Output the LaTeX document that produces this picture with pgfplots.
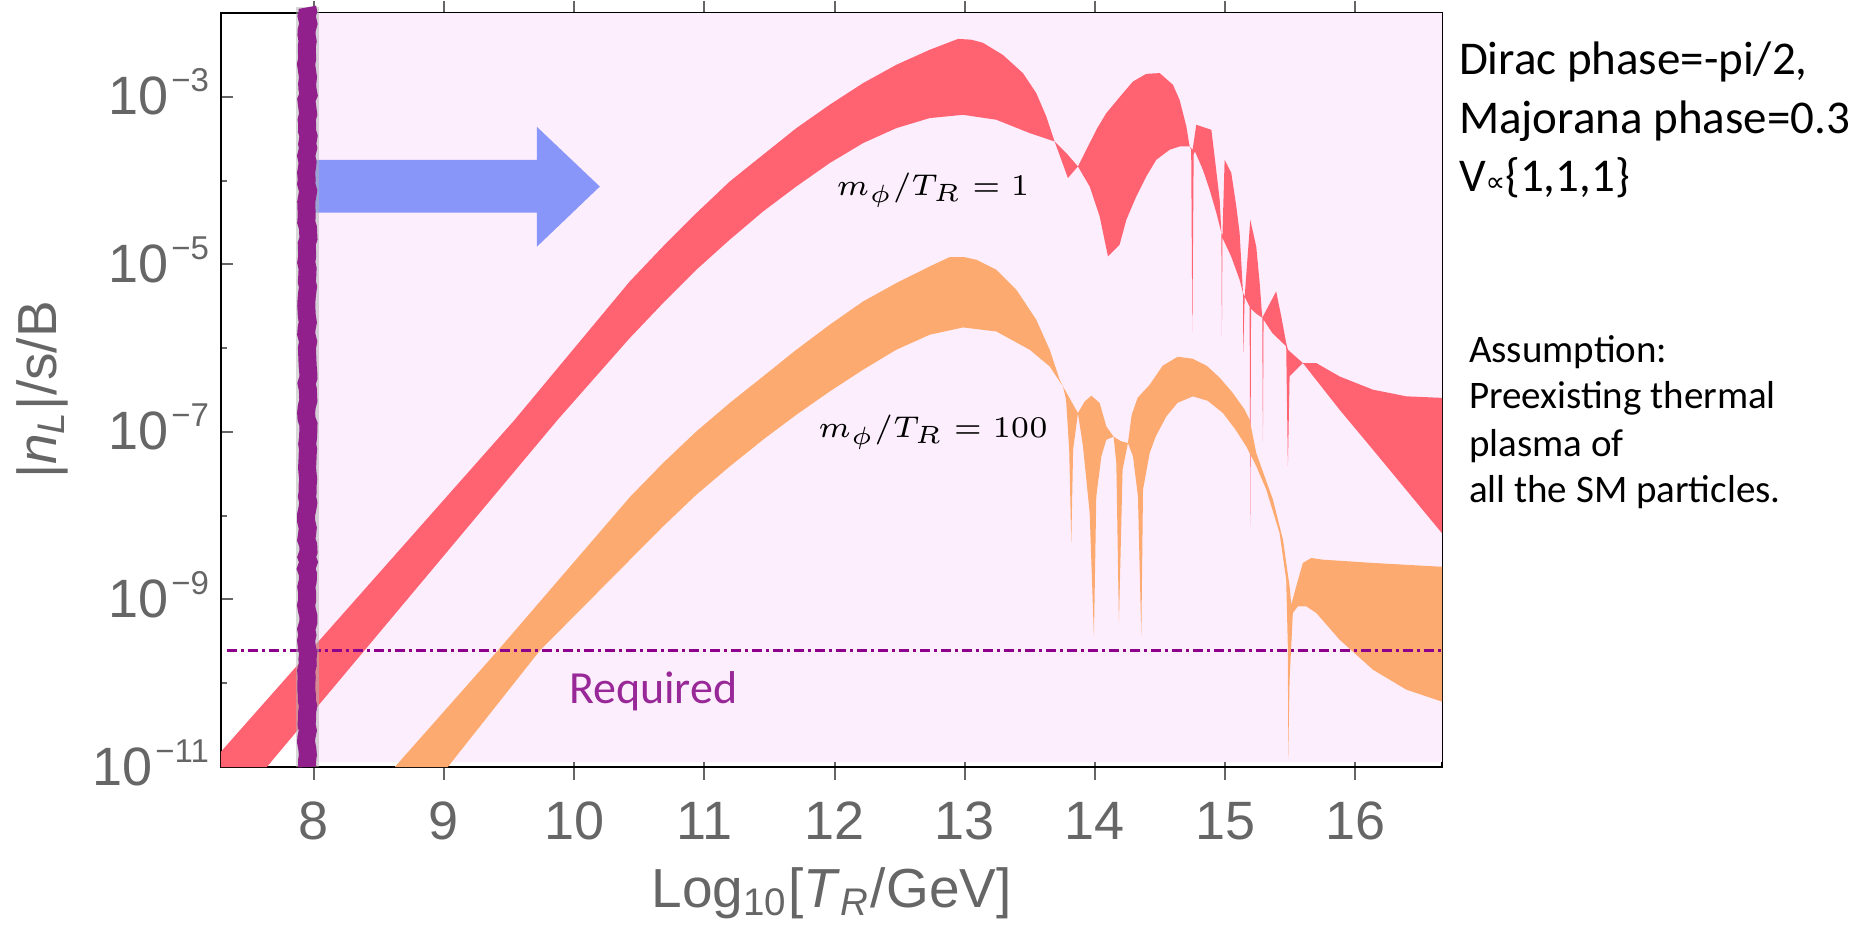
\documentclass[border=0pt]{standalone}
\usepackage{fontspec}
\setmainfont{Liberation Sans}
\newfontfamily\calibri{Carlito}
\newfontfamily\djv{DejaVu Sans}
\usepackage{pgfplots}
\usepackage{pgfplotstable}
\pgfplotsset{compat=1.18}
\usetikzlibrary{decorations.pathmorphing}

\definecolor{redband}{RGB}{255,99,114}
\definecolor{orangeband}{RGB}{252,170,112}
\definecolor{pinkbg}{RGB}{253,238,253}
\definecolor{vpurple}{RGB}{145,32,140}
\definecolor{dpurple}{RGB}{140,0,140}
\definecolor{reqpurple}{RGB}{152,40,152}
\definecolor{arrowblue}{RGB}{136,150,250}
\definecolor{tickgray}{RGB}{102,102,102}

\newcommand{\tp}[1]{10\hspace{0.5pt}\raisebox{4.6pt}{\fontsize{6.6}{6.6}\selectfont −#1}}

% red band (m_phi/T_R = 1): log10 values, upper edge then lower edge reversed
\pgfplotstableread{
x L
7.287 -11.0
7.287 -10.816
9.544 -6.854
10.427 -5.204
10.683 -4.786
10.939 -4.388
11.195 -4.011
11.451 -3.692
11.707 -3.374
11.963 -3.095
12.219 -2.837
12.475 -2.618
12.731 -2.439
12.949 -2.309
13.050 -2.318
13.141 -2.356
13.294 -2.501
13.448 -2.718
13.550 -2.956
13.627 -3.235
13.678 -3.474
13.691 -3.533
13.781 -3.672
13.870 -3.831
13.960 -3.553
14.020 -3.370
14.088 -3.195
14.216 -2.956
14.293 -2.817
14.395 -2.726
14.498 -2.717
14.600 -2.857
14.651 -3.036
14.703 -3.354
14.728 -3.593
14.751 -3.632
14.779 -3.334
14.895 -3.394
14.920 -3.712
14.959 -4.229
14.972 -4.623
14.980 -4.659
14.997 -3.752
15.048 -3.907
15.087 -4.313
15.112 -4.623
15.138 -5.339
15.151 -5.387
15.194 -4.468
15.240 -4.790
15.266 -5.220
15.286 -5.637
15.393 -5.323
15.432 -5.622
15.470 -5.939
15.483 -6.019
15.598 -6.178
15.701 -6.178
15.880 -6.338
16.136 -6.496
16.392 -6.575
16.667 -6.594
16.667 -8.21
16.136 -7.212
15.880 -6.735
15.598 -6.178
15.496 -6.337
15.483 -7.412
15.470 -5.979
15.363 -5.820
15.296 -5.660
15.291 -7.113
15.286 -5.637
15.240 -5.589
15.200 -5.530
15.194 -8.131
15.189 -5.506
15.151 -5.387
15.140 -6.055
15.138 -5.339
15.112 -5.184
15.048 -4.909
14.980 -4.683
14.976 -5.864
14.972 -4.623
14.933 -4.384
14.882 -4.110
14.830 -3.871
14.769 -3.652
14.759 -3.690
14.749 -5.816
14.740 -3.630
14.728 -3.593
14.651 -3.593
14.574 -3.632
14.472 -3.752
14.395 -3.951
14.318 -4.190
14.242 -4.468
14.190 -4.766
14.101 -4.906
14.037 -4.428
13.960 -4.070
13.870 -3.831
13.793 -3.970
13.691 -3.533
13.652 -3.513
13.499 -3.433
13.243 -3.274
12.987 -3.215
12.731 -3.254
12.475 -3.374
12.219 -3.553
11.963 -3.791
11.707 -4.070
11.451 -4.369
11.195 -4.706
10.939 -5.064
10.683 -5.462
10.427 -5.880
9.874 -6.854
7.639 -11.0
}\redband

% orange band (m_phi/T_R = 100)
\pgfplotstableread{
x L
8.622 -11.0
9.413 -9.611
10.427 -7.780
10.683 -7.371
10.939 -6.994
11.195 -6.655
11.451 -6.338
11.707 -6.019
11.963 -5.721
12.219 -5.443
12.475 -5.223
12.731 -5.025
12.885 -4.913
13.000 -4.915
13.090 -4.945
13.243 -5.064
13.397 -5.303
13.550 -5.661
13.653 -6.019
13.730 -6.377
13.755 -6.457
13.870 -6.775
13.922 -6.636
13.973 -6.568
14.037 -6.655
14.088 -6.934
14.144 -7.057
14.203 -7.113
14.254 -7.132
14.283 -6.795
14.329 -6.592
14.421 -6.437
14.521 -6.210
14.636 -6.103
14.751 -6.126
14.859 -6.210
14.959 -6.353
15.058 -6.532
15.151 -6.735
15.189 -6.854
15.240 -7.252
15.368 -7.809
15.445 -8.286
15.496 -8.843
15.509 -9.062
15.547 -8.843
15.598 -8.564
15.663 -8.505
15.752 -8.525
16.136 -8.564
16.667 -8.61
16.667 -10.22
16.392 -10.076
16.136 -9.838
15.880 -9.480
15.701 -9.161
15.624 -9.082
15.560 -9.082
15.521 -9.161
15.496 -9.957
15.485 -10.912
15.483 -9.599
15.470 -8.764
15.419 -8.207
15.317 -7.690
15.242 -7.415
15.163 -7.173
15.081 -6.974
14.984 -6.775
14.866 -6.628
14.753 -6.576
14.636 -6.652
14.549 -6.815
14.467 -7.057
14.421 -7.252
14.370 -7.690
14.357 -9.440
14.331 -7.770
14.293 -7.292
14.254 -7.132
14.213 -7.451
14.185 -9.280
14.165 -7.371
14.144 -7.057
14.088 -7.093
14.050 -7.292
14.011 -7.770
13.993 -9.440
13.960 -7.964
13.909 -7.173
13.870 -6.775
13.833 -7.212
13.819 -8.326
13.803 -7.212
13.779 -6.616
13.755 -6.457
13.653 -6.218
13.499 -6.019
13.243 -5.801
12.987 -5.753
12.731 -5.840
12.475 -6.019
12.219 -6.258
11.963 -6.517
11.707 -6.795
11.451 -7.093
11.195 -7.412
10.939 -7.749
10.683 -8.128
9.736 -9.611
9.029 -11.0
}\orangeband

\begin{document}
\begin{tikzpicture}
\pgfmathsetseed{7}
\useasboundingbox (-44.2pt,-31.8pt) rectangle (328.2pt,153.4pt);
\begin{axis}[
  at={(0,0)}, anchor=south west,
  width=244.2pt, height=150.8pt, scale only axis,
  xmin=7.287, xmax=16.667,
  ymode=log, ymin=1e-11, ymax=1e-2,
  clip=false,
  axis line style={black, line width=0.45pt},
  xtick={8,9,10,11,12,13,14,15,16},
  ytick={1e-11,1e-9,1e-7,1e-5,1e-3},
  yticklabels={\tp{11},\tp{9},\tp{7},\tp{5},\tp{3}},
  minor ytick={1e-10,1e-8,1e-6,1e-4},
  /pgf/number format/assume math mode=true,
  tick label style={font=\fontsize{10.8}{12}\selectfont, text=tickgray},
  xticklabel style={anchor=base, yshift=-13.2pt, inner sep=0pt},
  yticklabel style={anchor=base east, yshift=-3.6pt, xshift=-2.2pt, inner sep=0pt},
  xtick align=center,
  major tick length=2.4pt,
  minor tick length=1.3pt,
  xtick style={draw=tickgray, line width=0.4pt, /pgfplots/major tick length=5pt},
  ytick style={draw=tickgray, line width=0.4pt},
  minor y tick style={draw=tickgray, line width=0.4pt},
  xlabel={Log\textsubscript{10}[\textit{T}\textsubscript{\textit{R}}/GeV]},
  ylabel={|\textit{n}\textsubscript{\textit{L}}|/s/B},
  xlabel style={at={(axis description cs:0.5,-0.1857)}, anchor=base, font=\fontsize{11}{13}\selectfont, text=tickgray, inner sep=0pt},
  ylabel style={at={(axis description cs:-0.1351,0.5)}, anchor=base, font=\fontsize{11}{13}\selectfont, text=tickgray, inner sep=0pt},
]
% pink background region
\addplot[fill=pinkbg, draw=none] coordinates {(8,1.15e-11) (16.667,1.15e-11) (16.667,1e-2) (8,1e-2)} -- cycle;
% bands
\addplot[fill=redband, draw=none] table[x=x, y expr={10^(\thisrow{L})}] {\redband} -- cycle;
\addplot[fill=orangeband, draw=none] table[x=x, y expr={10^(\thisrow{L})}] {\orangeband} -- cycle;
% required line
\addplot[dpurple, line width=0.7pt, dash pattern=on 2pt off 0.8pt on 0.6pt off 0.8pt] coordinates {(7.332,2.45e-10) (16.667,2.45e-10)};
% blue arrow
\addplot[fill=arrowblue, draw=none] coordinates {(8,1.77e-4) (9.713,1.77e-4) (9.713,4.39e-4) (10.197,8.49e-5) (9.713,1.62e-5) (9.713,4.13e-5) (8,4.13e-5)} -- cycle;
% vertical purple line (shadow + line)
\addplot[gray!60, opacity=0.5, line width=4.6pt] coordinates {(7.955,1e-11) (7.955,1.17e-2)};
\addplot[vpurple, line width=3.6pt, decorate, decoration={random steps, segment length=1.2pt, amplitude=0.25pt}] coordinates {(7.95,1e-11) (7.95,1.17e-2)};
\end{axis}
% annotations
\node[anchor=base, font=\fontsize{5.8}{7}\selectfont] at (142.4pt,114.4pt) {$m_\phi/T_R=1$};
\node[anchor=base, font=\fontsize{5.8}{7}\selectfont] at (142.4pt,66pt) {$m_\phi/T_R=100$};
\node[anchor=base west, inner sep=0pt, font=\calibri\fontsize{9.2}{10}\selectfont, text=reqpurple] at (69.4pt,12.8pt) {Required};
\node[anchor=base west, inner sep=0pt, font=\calibri\fontsize{9.4}{11}\selectfont] at (247.4pt,138.4pt) {Dirac phase=-pi/2,};
\node[anchor=base west, inner sep=0pt, font=\calibri\fontsize{9.4}{11}\selectfont] at (247.4pt,126.8pt) {Majorana phase=0.3};
\node[anchor=base west, inner sep=0pt, font=\calibri\fontsize{9.4}{11}\selectfont] at (247.4pt,115.2pt) {V{\djv\fontsize{5.5}{6}\selectfont ∝}\{1,1,1\}};
\node[anchor=base west, inner sep=0pt, font=\calibri\fontsize{7.8}{9}\selectfont] at (249.4pt,81pt) {Assumption:};
\node[anchor=base west, inner sep=0pt, font=\calibri\fontsize{7.8}{9}\selectfont] at (249.4pt,71.8pt) {Preexisting thermal};
\node[anchor=base west, inner sep=0pt, font=\calibri\fontsize{7.8}{9}\selectfont] at (249.4pt,62.2pt) {plasma of};
\node[anchor=base west, inner sep=0pt, font=\calibri\fontsize{7.8}{9}\selectfont] at (249.4pt,53pt) {all the SM particles.};
\end{tikzpicture}
\end{document}
